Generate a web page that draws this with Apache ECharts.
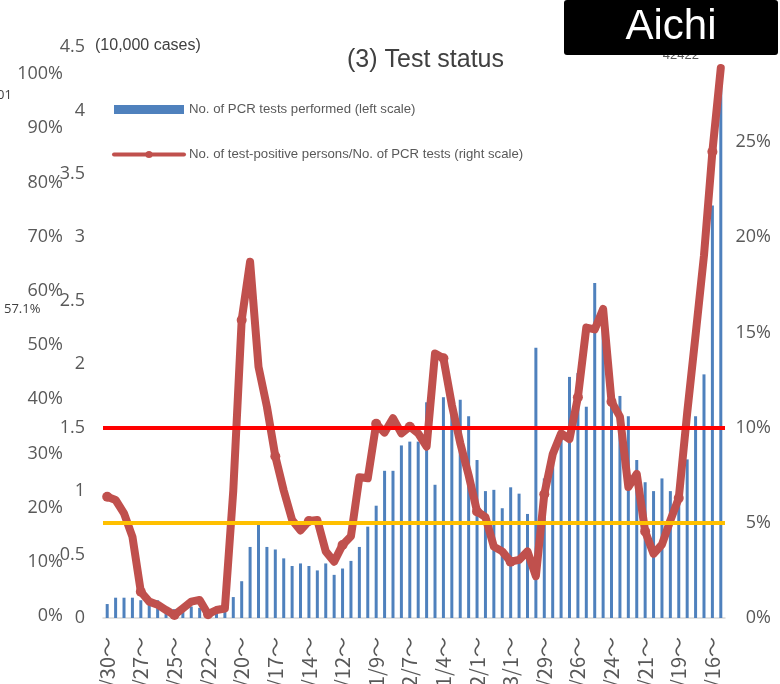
<!DOCTYPE html>
<html>
<head>
<meta charset="utf-8">
<script src="https://cdn.jsdelivr.net/npm/echarts@6/dist/echarts.min.js"></script>
<style>
  html, body { margin: 0; padding: 0; background: #ffffff; }
  #chart { width: 780px; height: 684px; }
</style>
</head>
<body>
<div id="chart"></div>
<script>
// Week starting dates (weekly totals)
const weeks = [
  '3/30～','4/6～','4/13～','4/20～','4/27～','5/4～','5/11～','5/18～','5/25～','6/1～',
  '6/8～','6/15～','6/22～','6/29～','7/6～','7/13～','7/20～','7/27～','8/3～','8/10～',
  '8/17～','8/24～','8/31～','9/7～','9/14～','9/21～','9/28～','10/5～','10/12～','10/19～',
  '10/26～','11/2～','11/9～','11/16～','11/23～','11/30～','12/7～','12/14～','12/21～','12/28～',
  '1/4～','1/11～','1/18～','1/25～','2/1～','2/8～','2/15～','2/22～','3/1～','3/8～',
  '3/15～','3/22～','3/29～','4/5～','4/12～','4/19～','4/26～','5/3～','5/10～','5/17～',
  '5/24～','5/31～','6/7～','6/14～','6/21～','6/28～','7/5～','7/12～','7/19～','7/26～',
  '8/2～','8/9～','8/16～','8/23～'
];

// No. of PCR tests performed (unit: 10,000 cases)
const pcrTests = [
  0.11, 0.16, 0.16, 0.16, 0.14, 0.12, 0.14, 0.09, 0.07, 0.07,
  0.09, 0.08, 0.06, 0.09, 0.09, 0.165, 0.29, 0.56, 0.74, 0.56,
  0.54, 0.47, 0.41, 0.43, 0.41, 0.375, 0.43, 0.34, 0.39, 0.45,
  0.56, 0.72, 0.885, 1.16, 1.16, 1.36, 1.39, 1.39, 1.70, 1.05,
  1.74, 1.75, 1.72, 1.59, 1.245, 1.00, 1.01, 0.865, 1.03, 0.98,
  0.82, 2.13, 1.10, 1.28, 1.45, 1.90, 1.93, 1.665, 2.64, 2.35,
  1.85, 1.75, 1.59, 1.245, 1.07, 1.00, 1.10, 1.00, 1.00, 1.25,
  1.59, 1.92, 3.25, 4.2422
];

// Test-positive persons / PCR tests (%)
const positiveRate = [
  6.37, 6.2, 5.5, 4.27, 1.38, 0.86, 0.7, 0.42, 0.16, 0.51,
  0.86, 0.95, 0.2, 0.42, 0.5, 6.7, 15.66, 18.72, 13.2, 11.1,
  8.5, 6.7, 5.15, 4.6, 5.1, 5.15, 3.5, 2.96, 3.84, 4.3,
  7.4, 7.34, 10.2, 9.74, 10.5, 9.7, 10.05, 9.7, 9.0, 13.9,
  13.65, 11.2, 9.2, 7.5, 5.6, 5.3, 3.75, 3.5, 2.96, 3.05,
  3.5, 2.2, 6.5, 8.6, 9.7, 9.4, 11.6, 15.26, 15.16, 16.24,
  11.36, 10.58, 6.88, 7.57, 4.55, 3.37, 3.86, 5.13, 6.3, 10.77,
  14.87, 19.05, 24.5, 28.9
];

// Reference levels on the positivity scale (%)
const upperLevel = 10;
const lowerLevel = 5;

const barName = 'No. of PCR tests performed (left scale)';
const lineName = 'No. of test-positive persons/No. of PCR tests (right scale)';

const last = pcrTests.length - 1;
const gray = '#595959';
const axisFont = 'Open Sans';

const barData = pcrTests.map((v, i) => i === last ? {
  value: v,
  label: {
    show: true, position: 'top', offset: [-40, -13],
    formatter: p => String(Math.round(p.value * 10000)),
    color: gray, fontSize: 13, fontFamily: 'Liberation Sans'
  }
} : v);

const lineData = positiveRate.map((v, i) => i === last ? {
  value: v,
  label: {
    show: true, position: 'right', offset: [0, 22],
    formatter: p => p.value.toFixed(1) + '%',
    color: gray, fontSize: 13, fontFamily: 'Liberation Sans'
  }
} : v);

const chart = echarts.init(document.getElementById('chart'), null, { renderer: 'canvas' });

chart.setOption({
  animation: false,
  backgroundColor: '#ffffff',
  title: {
    text: '(3) Test status',
    left: 342, top: 43,
    textStyle: { fontSize: 25, fontWeight: 'normal', color: '#404040', fontFamily: 'Liberation Sans' }
  },
  legend: {
    orient: 'vertical',
    left: 107, top: 98,
    itemWidth: 70, itemHeight: 9, itemGap: 32,
    textStyle: { fontSize: 13.2, color: gray, fontFamily: 'Liberation Sans' },
    data: [
      { name: barName, icon: 'rect' },
      { name: lineName, lineStyle: { width: 4 } }
    ]
  },
  grid: [
    { left: 103, right: 55, top: 47, bottom: 66, outerBoundsMode: 'none', containLabel: false },
    { left: 70, right: 55, top: 74, bottom: 68, outerBoundsMode: 'none', containLabel: false }
  ],
  xAxis: [
    {
      type: 'category', gridIndex: 0, data: weeks, boundaryGap: true,
      axisLine: { lineStyle: { color: '#D9D9D9', width: 1.5 } },
      axisTick: { show: false },
      axisLabel: {
        rotate: 90, interval: 3, margin: 19,
        fontSize: 20, color: gray, fontFamily: 'Noto Sans CJK JP'
      }
    },
    { type: 'value', gridIndex: 1, show: false, min: 0, max: 1 }
  ],
  yAxis: [
    {
      type: 'value', gridIndex: 0, position: 'left', min: 0, max: 4.5, interval: 0.5,
      axisLine: { show: false }, axisTick: { show: false }, splitLine: { show: false },
      axisLabel: { margin: 18, fontSize: 18, color: gray, fontFamily: axisFont }
    },
    {
      type: 'value', gridIndex: 0, position: 'right', min: 0, max: 30, interval: 5,
      axisLine: { show: false }, axisTick: { show: false }, splitLine: { show: false },
      axisLabel: {
        formatter: '{value}%', align: 'right', margin: 46,
        fontSize: 18, color: gray, fontFamily: axisFont
      }
    },
    {
      type: 'value', gridIndex: 1, position: 'left', min: 0, max: 100, interval: 10,
      axisLine: { show: false }, axisTick: { show: false }, splitLine: { show: false },
      axisLabel: { formatter: '{value}%', margin: 7, fontSize: 18, color: gray, fontFamily: axisFont }
    }
  ],
  series: [
    {
      name: barName, type: 'bar', xAxisIndex: 0, yAxisIndex: 0,
      data: barData, barWidth: 3,
      itemStyle: { color: '#4F81BD' },
      z: 2
    },
    {
      name: lineName, type: 'line', xAxisIndex: 0, yAxisIndex: 1,
      data: lineData,
      symbol: 'circle', symbolSize: 10,
      lineStyle: { color: '#C0504D', width: 8, join: 'round', cap: 'round' },
      itemStyle: { color: '#C0504D' },
      z: 3
    },
    {
      name: 'levels', type: 'line', xAxisIndex: 0, yAxisIndex: 1,
      data: [], z: 5, silent: true,
      markLine: {
        symbol: 'none', silent: true, animation: false,
        label: { show: false },
        data: [
          { yAxis: upperLevel, lineStyle: { color: '#FF0000', width: 4, type: 'solid' } },
          { yAxis: lowerLevel, lineStyle: { color: '#FFC000', width: 4, type: 'solid' } }
        ]
      }
    }
  ],
  graphic: [
    {
      type: 'text', left: 95, top: 38,
      style: { text: '(10,000 cases)', fontSize: 16, fill: '#404040', fontFamily: 'Liberation Sans' }
    },
    {
      type: 'text', left: 4, top: 303,
      style: { text: '57.1%', fontSize: 13, fill: '#404040', fontFamily: axisFont }
    },
    {
      type: 'text', left: -3, top: 89,
      style: { text: '01', fontSize: 13, fill: '#404040', fontFamily: axisFont }
    },
    {
      type: 'rect', z: 100, zlevel: 1,
      shape: { x: 564, y: 0, width: 214, height: 55, r: 3 },
      style: { fill: '#000000' }
    },
    {
      type: 'text', z: 101, zlevel: 1, x: 671, y: 27,
      style: { text: 'Aichi', fontSize: 42, fill: '#ffffff', fontFamily: 'Liberation Sans', align: 'center', verticalAlign: 'middle' }
    }
  ]
});
</script>
</body>
</html>
